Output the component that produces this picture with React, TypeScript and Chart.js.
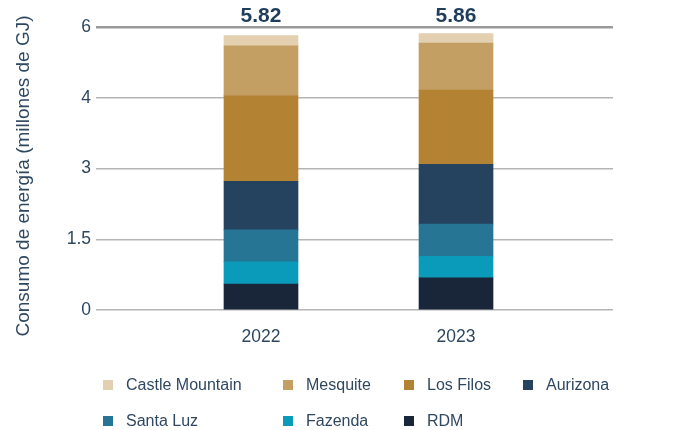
import React, { useEffect, useRef } from "react";
import { Chart, registerables } from "chart.js";

Chart.register(...registerables);

const categories = ["2022", "2023"];
const rdm = [0.55, 0.68];
const fazenda = [0.47, 0.46];
const santaLuz = [0.68, 0.68];
const aurizona = [1.03, 1.27];
const losFilos = [1.81, 1.57];
const mesquite = [1.06, 1.0];
const castleMountain = [0.22, 0.2];
const yTickLabels = ["0", "1.5", "3", "4", "6"];
const yTitle = "Consumo de energía (millones de GJ)";

const series = [
  { label: "RDM", data: rdm, color: "#19263A" },
  { label: "Fazenda", data: fazenda, color: "#0A9BBA" },
  { label: "Santa Luz", data: santaLuz, color: "#277595" },
  { label: "Aurizona", data: aurizona, color: "#25435F" },
  { label: "Los Filos", data: losFilos, color: "#B38232" },
  { label: "Mesquite", data: mesquite, color: "#C49F63" },
  { label: "Castle Mountain", data: castleMountain, color: "#E3D0B0" },
];

const FONT = "'Liberation Sans', Arial, sans-serif";
const TEXT = "#2f4860";

const overlayPlugin = {
  id: "overlay",
  afterDatasetsDraw(chart: any) {
    const { ctx, scales } = chart;
    const xs = scales.x;
    const ys = scales.y;
    ctx.save();
    ctx.fillStyle = "#1f3d5c";
    ctx.font = `bold 21px ${FONT}`;
    ctx.textAlign = "center";
    ctx.textBaseline = "middle";
    categories.forEach((_, i) => {
      const total = series.reduce((s, d) => s + d.data[i], 0);
      ctx.fillText(total.toFixed(2), xs.getPixelForValue(i), ys.getPixelForValue(6) - 11);
    });
    ctx.restore();
    ctx.save();
    ctx.fillStyle = TEXT;
    ctx.font = `19px ${FONT}`;
    ctx.textAlign = "center";
    ctx.textBaseline = "middle";
    ctx.translate(24, 176);
    ctx.rotate(-Math.PI / 2);
    ctx.fillText(yTitle, 0, 0);
    ctx.restore();
  },
};

export default function App() {
  const ref = useRef<HTMLCanvasElement | null>(null);
  useEffect(() => {
    if (!ref.current) return;
    const chart = new Chart(ref.current, {
      type: "bar",
      data: {
        datasets: series.map((s) => ({
          label: s.label,
          data: s.data.map((v, i) => ({ x: i, y: v })),
          backgroundColor: s.color,
          borderWidth: 0,
          barThickness: 74,
        })),
      },
      options: {
        animation: false,
        responsive: false,
        layout: { padding: { left: 0, top: 27, right: 67, bottom: 80 } },
        plugins: { legend: { display: false }, tooltip: { enabled: false } },
        scales: {
          x: {
            type: "linear",
            stacked: true,
            offset: false,
            min: -0.846,
            max: 1.805,
            grid: { display: false, offset: false },
            border: { display: false },
            afterBuildTicks: (scale: any) => {
              scale.ticks = categories.map((_, i) => ({ value: i }));
            },
            afterFit: (scale: any) => {
              scale.height = 40;
            },
            ticks: {
              padding: 9,
              color: TEXT,
              font: { family: FONT, size: 17.5 },
              callback: (v: any) => categories[v as number] ?? "",
            },
          },
          y: {
            stacked: true,
            min: 0,
            max: 6,
            border: { display: false },
            afterBuildTicks: (scale: any) => {
              scale.ticks = yTickLabels.map((_, i) => ({ value: i * 1.5 }));
            },
            afterFit: (scale: any) => {
              scale.width = 96;
            },
            grid: {
              drawTicks: false,
              color: (c: any) => (c.tick && c.tick.value === 6 ? "#9a9a9a" : "#b5b5b5"),
              lineWidth: (c: any) => (c.tick && c.tick.value === 6 ? 2.5 : 1.5),
            },
            ticks: {
              padding: 5,
              color: TEXT,
              font: { family: FONT, size: 17.5 },
              callback: (_v: any, i: number) => yTickLabels[i],
            },
          },
        },
      },
      plugins: [overlayPlugin],
    });
    return () => chart.destroy();
  }, []);

  const legendItems = [...series].reverse();
  return (
    <div style={{ position: "fixed", left: 0, top: 0, width: 680, height: 430, background: "#fff" }}>
      <canvas ref={ref} width={680} height={430} style={{ position: "absolute", left: 0, top: 0 }} />
      <div
        style={{
          position: "absolute",
          left: 103,
          top: 367,
          display: "grid",
          gridTemplateColumns: "180px 121px 119px auto",
          gridAutoRows: "36px",
          fontFamily: FONT,
          fontSize: 16,
          color: TEXT,
        }}
      >
        {legendItems.map((s) => (
          <div key={s.label} style={{ display: "flex", alignItems: "center", whiteSpace: "nowrap" }}>
            <span style={{ width: 10, height: 10, background: s.color, marginRight: 13, display: "inline-block" }} />
            <span>{s.label}</span>
          </div>
        ))}
      </div>
    </div>
  );
}
